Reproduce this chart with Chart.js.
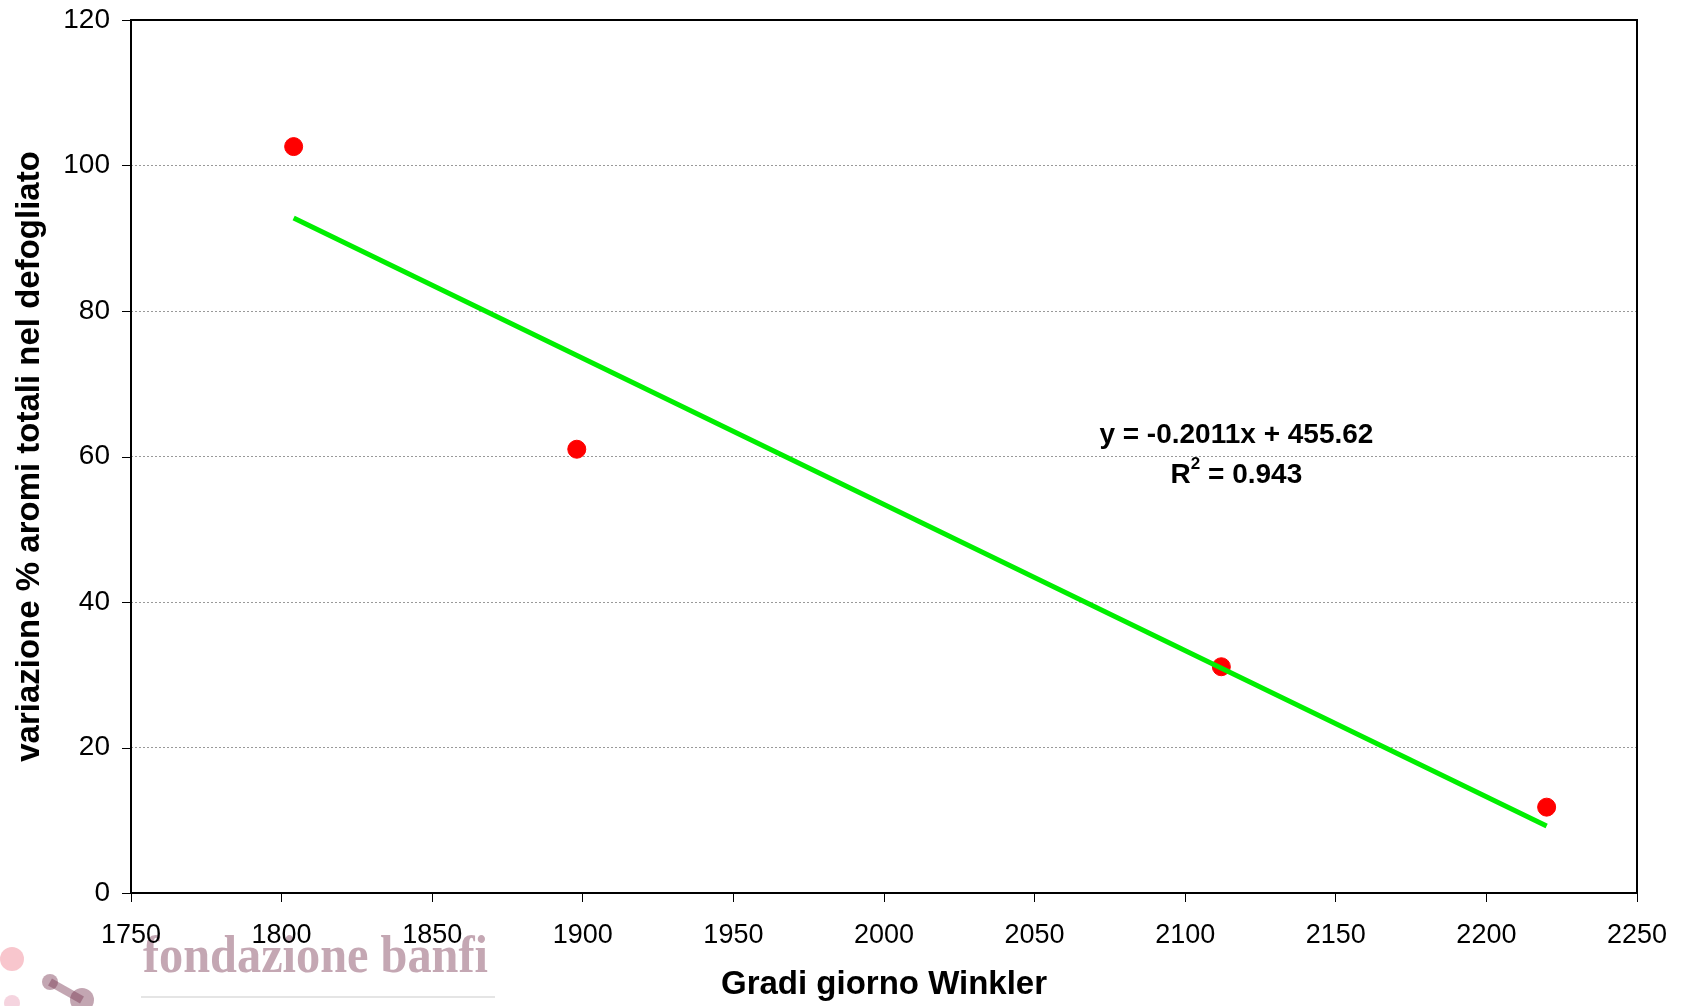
<!DOCTYPE html>
<html>
<head>
<meta charset="utf-8">
<script src="https://cdn.jsdelivr.net/npm/chart.js@4.4.1/dist/chart.umd.min.js"></script>
<style>
  html, body { margin: 0; padding: 0; background: #fff; }
  #wrap { width: 1683px; height: 1006px; position: relative; }
</style>
</head>
<body>
<div id="wrap"><canvas id="winklerChart"></canvas></div>
<script>
// Data
const gradiGiorno = [1804, 1898, 2112, 2220];
const variazioneAromi = [102.6, 61.0, 31.1, 11.8];

// Linear trendline end points (as drawn)
const trendX = [1804, 2220];
const trendY = [92.8, 9.2];

const xTicks = [1750, 1800, 1850, 1900, 1950, 2000, 2050, 2100, 2150, 2200, 2250];
const yTicks = [0, 20, 40, 60, 80, 100, 120];

const equationText = 'y = -0.2011x + 455.62';
const r2Value = ' = 0.943';
const equationPos = { x: 2117, y: 62.9 };
const r2Pos = { x: 2117, y: 57.4 };

const FONT = '"Liberation Sans", Arial, sans-serif';

// frame, y tick marks, equation and logo
const decorations = {
    id: 'decorations',
    beforeDraw(chart) {
        const ctx = chart.ctx;
        ctx.save();
        // faded logo bottom-left
        ctx.globalAlpha = 0.45;
        ctx.fillStyle = '#f08090';
        ctx.beginPath(); ctx.arc(12, 959, 12, 0, Math.PI * 2); ctx.fill();
        ctx.fillStyle = '#7a3a55';
        ctx.beginPath(); ctx.arc(50, 982, 8, 0, Math.PI * 2); ctx.fill();
        ctx.beginPath(); ctx.arc(82, 1000, 12, 0, Math.PI * 2); ctx.fill();
        ctx.lineWidth = 8; ctx.strokeStyle = '#7a3a55';
        ctx.beginPath(); ctx.moveTo(50, 982); ctx.lineTo(82, 1000); ctx.stroke();
        ctx.fillStyle = '#e8a0b8';
        ctx.beginPath(); ctx.arc(12, 1003, 8, 0, Math.PI * 2); ctx.fill();
        ctx.globalAlpha = 0.5;
        ctx.fillStyle = '#8a5068';
        ctx.font = 'bold 52px "Liberation Serif", "DejaVu Serif", serif';
        ctx.textBaseline = 'alphabetic';
        ctx.fillText('fondazione banfi', 143, 972, 345);
        ctx.globalAlpha = 0.25;
        ctx.fillStyle = '#999';
        ctx.fillRect(141, 996, 354, 2);
        ctx.restore();
    },
    afterDatasetsDraw(chart) {
        const ctx = chart.ctx;
        const a = chart.chartArea;
        const xs = chart.scales.x, ys = chart.scales.y;
        ctx.save();
        // y tick marks
        ctx.strokeStyle = '#000';
        ctx.lineWidth = 1;
        ys.ticks.forEach(t => {
            const py = Math.round(ys.getPixelForValue(t.value)) + 0.5;
            ctx.beginPath(); ctx.moveTo(a.left - 9, py); ctx.lineTo(a.left, py); ctx.stroke();
        });
        // plot frame
        ctx.lineWidth = 2;
        ctx.strokeRect(a.left, a.top, a.right - a.left, a.bottom - a.top);
        // trendline equation
        ctx.fillStyle = '#000';
        ctx.font = 'bold 28px ' + FONT;
        ctx.textAlign = 'center';
        ctx.textBaseline = 'middle';
        ctx.fillText(equationText, xs.getPixelForValue(equationPos.x), ys.getPixelForValue(equationPos.y));
        const rx = xs.getPixelForValue(r2Pos.x), ry = ys.getPixelForValue(r2Pos.y);
        const wR = ctx.measureText('R').width;
        ctx.font = 'bold 17px ' + FONT;
        const w2 = ctx.measureText('2').width;
        ctx.font = 'bold 28px ' + FONT;
        const wRest = ctx.measureText(r2Value).width;
        let sx = rx - (wR + w2 + wRest) / 2;
        ctx.textAlign = 'left';
        ctx.fillText('R', sx, ry);
        ctx.font = 'bold 17px ' + FONT;
        ctx.fillText('2', sx + wR, ry - 11);
        ctx.font = 'bold 28px ' + FONT;
        ctx.fillText(r2Value, sx + wR + w2, ry);
        ctx.restore();
    }
};

new Chart(document.getElementById('winklerChart'), {
    type: 'scatter',
    data: {
        datasets: [{
            label: 'Lineare',
            type: 'line',
            data: trendX.map((x, i) => ({ x: x, y: trendY[i] })),
            borderColor: '#00ee00',
            borderWidth: 5,
            pointRadius: 0,
            fill: false,
            tension: 0
        }, {
            label: 'variazione %',
            data: gradiGiorno.map((x, i) => ({ x: x, y: variazioneAromi[i] })),
            backgroundColor: '#ff0000',
            borderColor: '#ff0000',
            pointRadius: 9,
            pointHoverRadius: 9
        }]
    },
    options: {
        responsive: true,
        maintainAspectRatio: false,
        animation: false,
        layout: { padding: { top: 20, right: 46, left: 0, bottom: 0 } },
        plugins: {
            legend: { display: false },
            tooltip: { enabled: false }
        },
        scales: {
            x: {
                type: 'linear',
                min: 1750,
                max: 2250,
                afterBuildTicks: s => { s.ticks = xTicks.map(v => ({ value: v })); },
                afterFit: s => { s.height = 113; s.paddingLeft = 0; s.paddingRight = 0; },
                grid: { drawOnChartArea: false, drawTicks: true, tickLength: 9, color: '#000' },
                border: { display: false },
                ticks: {
                    color: '#000',
                    font: { family: FONT, size: 27 },
                    padding: 17,
                    maxRotation: 0,
                    callback: v => String(v)
                },
                title: {
                    display: true,
                    text: 'Gradi giorno Winkler',
                    color: '#000',
                    font: { family: FONT, size: 33, weight: 'bold' },
                    padding: { top: 0, bottom: 1 }
                }
            },
            y: {
                min: 0,
                max: 120,
                afterBuildTicks: s => { s.ticks = yTicks.map(v => ({ value: v })); },
                afterFit: s => { s.width = 131; s.paddingTop = 0; s.paddingBottom = 0; },
                grid: {
                    drawTicks: false,
                    color: c => (c.tick && (c.tick.value === 0 || c.tick.value === 120)) ? 'rgba(0,0,0,0)' : '#999999',
                    lineWidth: 1
                },
                border: { display: false, dash: [2, 2] },
                ticks: {
                    color: '#000',
                    font: { family: FONT, size: 28 },
                    padding: 21,
                    callback: v => String(v)
                },
                title: {
                    display: true,
                    text: 'variazione % aromi totali nel defogliato',
                    color: '#000',
                    font: { family: FONT, size: 33, weight: 'bold' },
                    padding: { top: 10, bottom: 0 }
                }
            }
        }
    },
    plugins: [decorations]
});
</script>
</body>
</html>
